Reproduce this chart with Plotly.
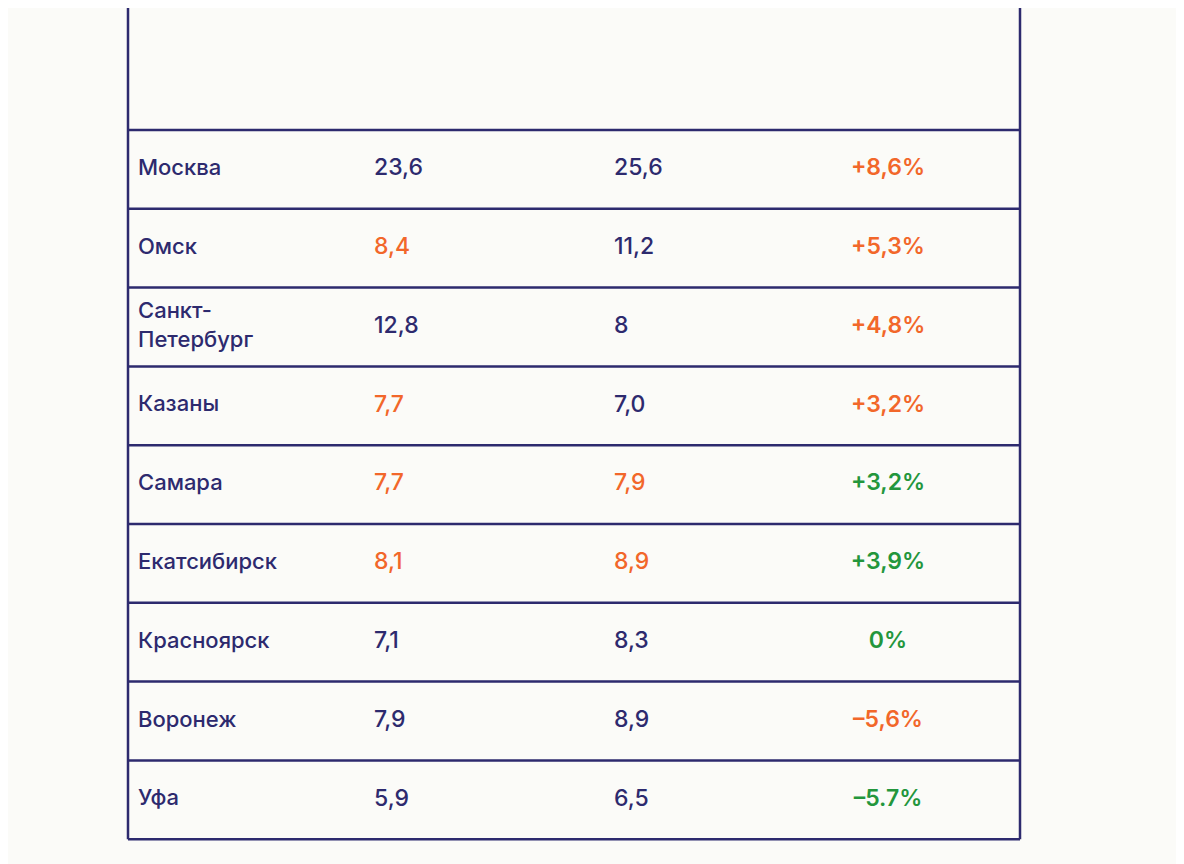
import plotly.graph_objects as go

NAVY = "#2d2a6e"
ORANGE = "#f2672a"
GREEN = "#23963c"

headers = ["Город", "Средняя<br>стоимость<br>лота в марте<br>2024 года, млн<br>руб.",
           "Средняя<br>стоимость<br>лота в июне<br>2024 года, млн<br>руб.", "Динамика"]
cities = ["Москва", "Омск", "Санкт-<br>Петербург", "Казаны", "Самара", "Екатсибирск",
          "Красноярск", "Воронеж", "Уфа"]
march = ["23,6", "8,4", "12,8", "7,7", "7,7", "8,1", "7,1", "7,9", "5,9"]
june = ["25,6", "11,2", "8", "7,0", "7,9", "8,9", "8,3", "8,9", "6,5"]
change = ["+8,6%", "+5,3%", "+4,8%", "+3,2%", "+3,2%", "+3,9%", "0%", "–5,6%", "–5.7%"]
march_col = ["n", "o", "n", "o", "o", "o", "n", "n", "n"]
june_col = ["n", "n", "n", "n", "o", "o", "n", "n", "n"]
change_col = ["o", "o", "o", "o", "g", "g", "g", "o", "g"]

cmap = {"n": NAVY, "o": ORANGE, "g": GREEN}
col_x = [138, 374, 614, 888]
left, right = 128, 1020
head_bottom, row_h = 130, 78.8
n = len(cities)
row_y = [head_bottom + row_h * (i + 0.5) for i in range(n)]

fig = go.Figure()
font = "Inter, Roboto, sans-serif"
fig.add_trace(go.Scatter(x=[col_x[0]] * n, y=row_y, mode="text", text=cities,
                         textposition="middle right",
                         textfont=dict(size=22, color=NAVY, family=font, weight=500)))
fig.add_trace(go.Scatter(x=[col_x[1]] * n, y=row_y, mode="text", text=march,
                         textposition="middle right",
                         textfont=dict(size=23, color=[cmap[c] for c in march_col], family=font, weight=500)))
fig.add_trace(go.Scatter(x=[col_x[2]] * n, y=row_y, mode="text", text=june,
                         textposition="middle right",
                         textfont=dict(size=23, color=[cmap[c] for c in june_col], family=font, weight=500)))
fig.add_trace(go.Scatter(x=[col_x[3]] * n, y=row_y, mode="text", text=change,
                         textposition="middle center",
                         textfont=dict(size=23, color=[cmap[c] for c in change_col], family=font, weight=600)))

for i, h in enumerate(headers):
    fig.add_annotation(x=col_x[i] if i < 3 else 852, y=2, text=h,
                       xanchor="left", yanchor="top", showarrow=False, align="left",
                       font=dict(size=19, color=NAVY, family=font, weight=600))

line = dict(color=NAVY, width=2.5)
bottom = head_bottom + row_h * n
fig.add_shape(type="line", x0=left, x1=left, y0=0, y1=bottom, line=line)
fig.add_shape(type="line", x0=right, x1=right, y0=0, y1=bottom, line=line)
for i in range(n + 1):
    y = head_bottom + row_h * i
    fig.add_shape(type="line", x0=left, x1=right, y0=y, y1=y, line=line)

# page body has an 8px margin, so shift the axes to line up with the window
fig.update_layout(width=1184, height=864, margin=dict(l=0, r=0, t=0, b=0),
                  paper_bgcolor="#fbfbf8", plot_bgcolor="#fbfbf8", showlegend=False,
                  xaxis=dict(range=[8, 1192], visible=False),
                  yaxis=dict(range=[872, 8], visible=False))
fig.write_html("out.html")
